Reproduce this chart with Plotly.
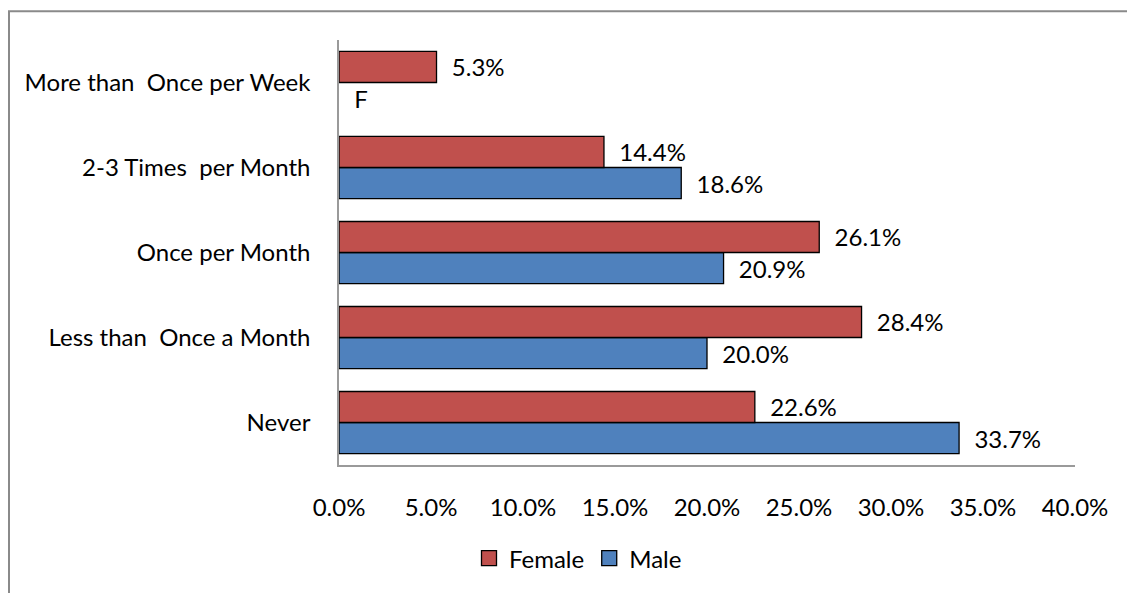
import plotly.graph_objects as go

# Survey categories, bottom to top as drawn on the y axis
categories = [
    "Never",
    "Less than  Once a Month",
    "Once per Month",
    "2-3 Times  per Month",
    "More than  Once per Week",
]

# Shares in percent; the male value for the top category is suppressed (flag "F")
female = [22.6, 28.4, 26.1, 14.4, 5.3]
male = [33.7, 20.0, 20.9, 18.6, 0.0]
male_flags = ["", "", "", "", "F"]

x_ticks = [0, 5, 10, 15, 20, 25, 30, 35, 40]

FONT = "Lato"
FS = 24
PAD = "\u00a0\u00a0"
RED, BLUE = "#C0504D", "#4F81BD"

W, H = 1127, 593
L, R, T, B = 339, 52, 40, 126
plot_w = W - L - R
plot_h = H - T - B

male_text = [PAD + (f if f else f"{v:.1f}%") for v, f in zip(male, male_flags)]
female_text = [PAD + f"{v:.1f}%" for v in female]

fig = go.Figure()
fig.add_trace(go.Bar(
    name="Male",
    y=categories,
    x=male,
    orientation="h",
    marker=dict(color=BLUE,
                line=dict(color="#000000",
                          width=[0 if f else 1.3 for f in male_flags])),
    text=male_text,
    textposition="outside",
    cliponaxis=False,
    textfont=dict(family=FONT, size=FS, color="#000000"),
    hoverinfo="skip",
    showlegend=False,
))
fig.add_trace(go.Bar(
    name="Female",
    y=categories,
    x=female,
    orientation="h",
    marker=dict(color=RED, line=dict(color="#000000", width=1.3)),
    text=female_text,
    textposition="outside",
    cliponaxis=False,
    textfont=dict(family=FONT, size=FS, color="#000000"),
    hoverinfo="skip",
    showlegend=False,
))

# Legend keys: square swatches with a dark outline
for name, col in [("Female", RED), ("Male", BLUE)]:
    fig.add_trace(go.Scatter(
        name=name, x=[None], y=[None], mode="markers",
        marker=dict(symbol="square", size=15, color=col,
                    line=dict(color="#000000", width=1.3)),
        hoverinfo="skip", showlegend=True,
    ))

# Outer chart frame (only the top and left edges fall inside the page)
px2x = lambda px: (px - L) / plot_w
px2y = lambda py: (H - B - py) / plot_h
fig.add_shape(
    type="rect", xref="paper", yref="paper",
    x0=px2x(9), x1=px2x(W + 20), y0=px2y(H + 20), y1=px2y(11),
    line=dict(color="#8a8a8a", width=2), fillcolor="rgba(0,0,0,0)",
    layer="below",
)

fig.update_layout(
    width=W, height=H,
    margin=dict(l=L, r=R, t=T, b=B, pad=0),
    paper_bgcolor="white",
    plot_bgcolor="white",
    barmode="group",
    bargap=0.27,
    bargroupgap=0,
    font=dict(family=FONT, size=FS, color="#000000"),
    uniformtext=dict(mode=False),
    xaxis=dict(
        range=[0, 40],
        tickvals=x_ticks,
        ticktext=[f"{v:.1f}%" for v in x_ticks],
        showgrid=False,
        zeroline=False,
        showline=True,
        linecolor="#9a9a9a",
        linewidth=1.5,
        ticks="",
        ticklabelstandoff=20,
        tickfont=dict(family=FONT, size=FS),
        fixedrange=True,
    ),
    yaxis=dict(
        type="category",
        categoryorder="array",
        categoryarray=categories,
        showgrid=False,
        zeroline=False,
        showline=True,
        linecolor="#9a9a9a",
        linewidth=1.5,
        ticks="",
        ticklabelstandoff=22,
        tickfont=dict(family=FONT, size=FS),
        fixedrange=True,
    ),
    showlegend=True,
    legend=dict(
        orientation="h",
        traceorder="normal",
        x=px2x(578), xanchor="center",
        y=px2y(561), yanchor="middle",
        font=dict(family=FONT, size=FS),
        itemwidth=30,
        bgcolor="rgba(0,0,0,0)",
    ),
)

fig.write_html("out.html")
